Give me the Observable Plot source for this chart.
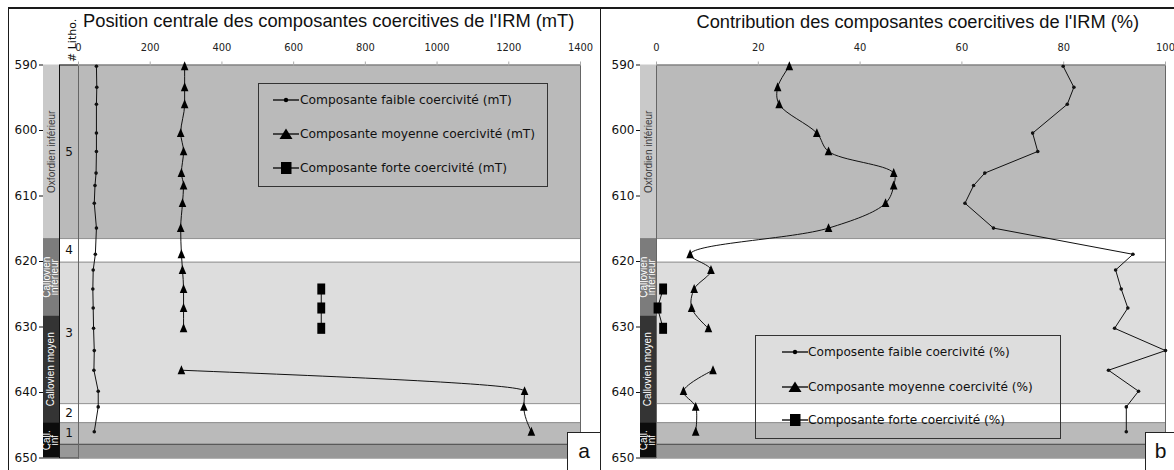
<!DOCTYPE html>
<html><head><meta charset="utf-8">
<script src="https://cdn.jsdelivr.net/npm/d3@7"></script>
<script src="https://cdn.jsdelivr.net/npm/@observablehq/plot@0.6"></script>
<style>
body{margin:0;background:#fff;}
#root{position:relative;width:1174px;height:470px;overflow:hidden;background:#fff;font-family:"DejaVu Sans",sans-serif;color:#111;}
.line{position:absolute;background:#1a1a1a;}
.title{position:absolute;font-family:"Liberation Sans",Arial,sans-serif;white-space:nowrap;color:#111;}
.legend{position:absolute;border:1px solid #333;box-sizing:border-box;}
.leg-item{position:absolute;left:0;height:16px;display:flex;align-items:center;font-family:"DejaVu Sans",sans-serif;white-space:nowrap;color:#111;}
.tag{position:absolute;background:#fff;border:1px solid #222;box-sizing:border-box;font-family:"Liberation Sans Narrow","Liberation Sans",sans-serif;font-size:21px;line-height:36px;text-align:center;color:#111;}
</style></head>
<body><div id="root"></div>
<script>
// ---- Data ----
const depths      = [590.2, 593.4, 596.0, 600.4, 603.2, 606.5, 608.4, 611.1, 614.9, 618.9, 621.3, 624.2, 627.1, 630.2, 633.6, 636.6, 639.8, 642.2, 646.0];
const faibleMT    = [50, 51, 50, 50, 50, 49, 46, 44, 50, 47, 41, 40, 41, 42, 44, 43, 55, 55, 44];
const moyenneMT   = [296, 296, 296, 285, 293, 287, 293, 290, 285, 287, 290, 293, 293, 293, null, 287, 1244, 1242, 1263];
const forteMT     = [null, null, null, null, null, null, null, null, null, null, null, 677, 677, 677, null, null, null, null, null];
const faiblePct   = [79.9, 82.0, 80.7, 73.9, 74.9, 64.5, 62.3, 60.6, 66.2, 93.6, 90.2, 91.3, 92.6, 90.0, 100, 88.8, 94.7, 92.3, 92.3];
const moyennePct  = [26.1, 23.8, 24.1, 31.5, 33.8, 46.6, 46.6, 45.0, 33.8, 6.6, 10.7, 7.4, 6.9, 10.2, null, 11.1, 5.3, 7.7, 7.7];
const fortePct    = [null, null, null, null, null, null, null, null, null, null, null, 1.3, 0.2, 1.3, null, null, null, null, null];

const xTicksMT  = [0, 200, 400, 600, 800, 1000, 1200, 1400];
const xTicksPct = [0, 20, 40, 60, 80, 100];
const yTicks    = [590, 600, 610, 620, 630, 640, 650];

const bandTop    = [590, 616.5, 620.1, 641.7, 644.6, 647.9];
const bandBottom = [616.5, 620.1, 641.7, 644.6, 647.9, 650];
const bandFacies = ["gris", "blanc", "clair", "blanc", "gris", "sombre"];

const unitLabels = ["5", "4", "3", "2", "1"];
const unitTop    = [590, 616.5, 620.1, 641.7, 644.6];
const unitBottom = [616.5, 620.1, 641.7, 644.6, 647.9];

const stageLabels = ["Oxfordien inférieur", "Callovien\ninférieur", "Callovien moyen", "Call.\ninf"];
const stageTop    = [590, 616.5, 628.3, 644.6];
const stageBottom = [616.5, 628.3, 644.6, 650];

const titleMT  = "Position centrale des composantes coercitives de l'IRM (mT)";
const titlePct = "Contribution des composantes coercitives de l'IRM (%)";
const legendMT  = ["Composante faible coercivité (mT)", "Composante moyenne coercivité (mT)", "Composante forte coercivité (mT)"];
const legendPct = ["Composente faible coercivité (%)", "Composante moyenne coercivité (%)", "Composante forte coercivité (%)"];

// ---- Derived tables ----
const bands  = bandTop.map((t, i) => ({top: t, bottom: bandBottom[i], facies: bandFacies[i]}));
const units  = unitLabels.map((l, i) => ({label: l, top: unitTop[i], bottom: unitBottom[i]}));
const stages = stageLabels.map((l, i) => ({label: l, top: stageTop[i], bottom: stageBottom[i]}));
const rowsMT  = depths.map((d, i) => ({depth: d, faible: faibleMT[i], moyenne: moyenneMT[i], forte: forteMT[i]}));
const rowsPct = depths.map((d, i) => ({depth: d, faible: faiblePct[i], moyenne: moyennePct[i], forte: fortePct[i]}));

// ---- Styles ----
const H = 470, MT = 64.5, MB = 12.5;
const faciesColor = {domain: ["gris", "blanc", "clair", "sombre"], range: ["#bababa", "#ffffff", "#dddddd", "#989898"]};
const stageColors = ["#c9c9c9", "#7c7c7c", "#343434", "#0c0c0c"];
const triUp = {draw(ctx, size) { const s = Math.sqrt(size); ctx.moveTo(0, -0.56 * s); ctx.lineTo(0.43 * s, 0.44 * s); ctx.lineTo(-0.43 * s, 0.44 * s); ctx.closePath(); }};
const tallSq = {draw(ctx, size) { const s = Math.sqrt(size); const w = 0.37 * s, h = 0.52 * s; ctx.moveTo(-w, -h); ctx.lineTo(w, -h); ctx.lineTo(w, h); ctx.lineTo(-w, h); ctx.closePath(); }};
const mid = d => (d.top + d.bottom) / 2;
const baseStyle = {background: "transparent", overflow: "visible", color: "#111"};

const root = document.getElementById("root");
function place(svg, left) {
  svg.style.position = "absolute"; svg.style.left = left + "px"; svg.style.top = "0px";
  root.appendChild(svg);
}
function div(cls, css, text, parent = root) {
  const e = document.createElement("div"); e.className = cls; Object.assign(e.style, css);
  if (text != null) e.textContent = text; parent.appendChild(e); return e;
}

function stagePlot(left, marginLeft) {
  const svg = Plot.plot({
    width: marginLeft + 16, height: H, marginLeft, marginRight: 0, marginTop: MT, marginBottom: MB,
    style: {...baseStyle, fontFamily: "DejaVu Sans, sans-serif", fontSize: "12px"},
    y: {domain: [590, 650], reverse: true, ticks: yTicks, tickFormat: "d", tickSize: 4, tickPadding: 2, label: null},
    color: {domain: stageLabels, range: stageColors},
    marks: [
      Plot.rect(stages, {y1: "top", y2: "bottom", fill: "label"}),
      Plot.text(stages.slice(0, 1), {y: mid, text: "label", rotate: -90, fill: "#3a3a3a", fontSize: 10, fontFamily: "Liberation Sans, Arial, sans-serif"}),
      Plot.text(stages.slice(1), {y: mid, text: "label", rotate: -90, fill: "#fff", fontSize: 10, lineHeight: 0.85, fontFamily: "Liberation Sans, Arial, sans-serif"}),
      Plot.ruleY([650], {stroke: "#222"})
    ]
  });
  place(svg, left);
}

function lithoPlot(left) {
  const svg = Plot.plot({
    width: 19, height: H, marginLeft: 0, marginRight: 0, marginTop: MT, marginBottom: MB,
    style: {...baseStyle, fontFamily: "DejaVu Sans, sans-serif", fontSize: "12px"},
    y: {domain: [590, 650], reverse: true, axis: null},
    color: faciesColor,
    marks: [
      Plot.rect(bands, {y1: "top", y2: "bottom", fill: "facies"}),
      Plot.ruleY(bandTop.slice(1, -1), {stroke: "#8e8e8e"}),
      Plot.ruleY(bandTop.slice(-1), {stroke: "#444"}),
      Plot.text(units, {y: mid, text: "label", fontSize: 12, fill: "#111"}),
      Plot.frame({stroke: "#111"}),
      Plot.text(["# Litho."], {text: d => d, frameAnchor: "top", dy: -3, dx: -1, rotate: -90, textAnchor: "start", fontSize: 11, fill: "#111"})
    ]
  });
  place(svg, left);
}

function dataPlot(left, frameWidth, marginRight, domain, ticks, rows, curveMid) {
  const svg = Plot.plot({
    width: frameWidth + marginRight, height: H, marginLeft: 0, marginRight, marginTop: MT, marginBottom: MB,
    style: {...baseStyle, fontFamily: "Liberation Sans Narrow, DejaVu Sans Condensed, sans-serif", fontSize: "11px"},
    x: {domain},
    y: {domain: [590, 650], reverse: true, axis: null},
    color: faciesColor,
    marks: [
      Plot.rect(bands, {y1: "top", y2: "bottom", fill: "facies"}),
      Plot.ruleY(bandTop.slice(1, -1), {stroke: "#8e8e8e"}),
      Plot.ruleY(bandTop.slice(-1), {stroke: "#444"}),
      Plot.frame({stroke: "#666"}),
      Plot.axisX({anchor: "top", ticks, tickSize: 4, tickPadding: 10, tickFormat: "d", stroke: "#aaa", fill: "#222", label: null}),
      Plot.line(rows, {x: "faible", y: "depth", stroke: "#111", strokeWidth: 1}),
      Plot.dot(rows, {x: "faible", y: "depth", r: 1.8, fill: "#111", stroke: "none"}),
      Plot.line(rows, {x: "moyenne", y: "depth", curve: curveMid, stroke: "#111", strokeWidth: 1}),
      Plot.dot(rows, {x: "moyenne", y: "depth", symbol: triUp, r: 5, fill: "#000", stroke: "none"}),
      Plot.line(rows, {x: "forte", y: "depth", stroke: "#111", strokeWidth: 1}),
      Plot.dot(rows, {x: "forte", y: "depth", symbol: tallSq, r: 6, fill: "#000", stroke: "none"})
    ]
  });
  place(svg, left);
}

function sample(kind) {
  const ns = "http://www.w3.org/2000/svg";
  const s = document.createElementNS(ns, "svg");
  s.setAttribute("width", 26); s.setAttribute("height", 16); s.style.flex = "none"; s.style.overflow = "visible";
  const l = document.createElementNS(ns, "line");
  l.setAttribute("x1", 0); l.setAttribute("x2", 26); l.setAttribute("y1", 8); l.setAttribute("y2", 8);
  l.setAttribute("stroke", "#111"); l.setAttribute("stroke-width", 1.4); s.appendChild(l);
  let m;
  if (kind === 0) { m = document.createElementNS(ns, "circle"); m.setAttribute("cx", 13); m.setAttribute("cy", 8); m.setAttribute("r", 2.2); }
  else if (kind === 1) { m = document.createElementNS(ns, "path"); m.setAttribute("d", "M13,2.5L19.5,13L6.5,13Z"); }
  else { m = document.createElementNS(ns, "rect"); m.setAttribute("x", 8); m.setAttribute("y", 2); m.setAttribute("width", 10.5); m.setAttribute("height", 12); }
  m.setAttribute("fill", "#000"); s.appendChild(m);
  return s;
}

// fit a text element's font size so that its rendered width equals target (measured in the DOM)
function fitWidth(el, target) {
  el.style.fontSize = "20px";
  const w = el.getBoundingClientRect().width;
  const size = 20 * target / w;
  el.style.fontSize = size + "px";
  return size;
}

function legend(box, labels, rowCenters, sampleLeft, gap, firstWidth) {
  const lg = div("legend", {left: box[0] + "px", top: box[1] + "px", width: box[2] + "px", height: box[3] + "px"});
  const spans = labels.map((lab, i) => {
    const it = document.createElement("div"); it.className = "leg-item";
    it.style.top = (rowCenters[i] - 8 - 1) + "px"; it.style.left = (sampleLeft - 1) + "px";
    it.appendChild(sample(i));
    const t = document.createElement("span"); t.textContent = lab; t.style.marginLeft = gap + "px";
    it.appendChild(t); lg.appendChild(it);
    return t;
  });
  const size = fitWidth(spans[0], firstWidth);
  spans.forEach(s => s.style.fontSize = size + "px");
}

function title(text, center, width) {
  const el = div("title", {left: "0px", top: "0px"}, text);
  const size = fitWidth(el, width);
  Object.assign(el.style, {lineHeight: size + "px", left: (center - width / 2) + "px", top: (28 - 0.847 * size) + "px"});
}

// ---- Panel a ----
stagePlot(0, 43);
lithoPlot(59);
dataPlot(78, 502, 20, [0, 1400], xTicksMT, rowsMT, "monotone-y");
title(titleMT, 329, 492);
legend([258, 83, 290, 104], legendMT, [16.5, 51, 85], 15, 1, 212);

// ---- Panel b ----
stagePlot(600, 40);
dataPlot(656, 509, 9, [0, 100], xTicksPct, rowsPct, "catmull-rom");
title(titlePct, 918, 443);
legend([755, 335, 306, 104], legendPct, [17, 52, 85], 27, 0, 202);

// ---- Frame ----
div("line", {left: "8px", top: "7px", width: "1166px", height: "1.5px"});
div("line", {left: "7.5px", top: "7px", width: "1.5px", height: "463px"});
div("line", {left: "599.5px", top: "7px", width: "1.5px", height: "463px"});
div("tag", {left: "567px", top: "432px", width: "34px", height: "40px"}, "a");
div("tag", {left: "1145px", top: "432px", width: "31px", height: "40px"}, "b");
</script></body></html>
